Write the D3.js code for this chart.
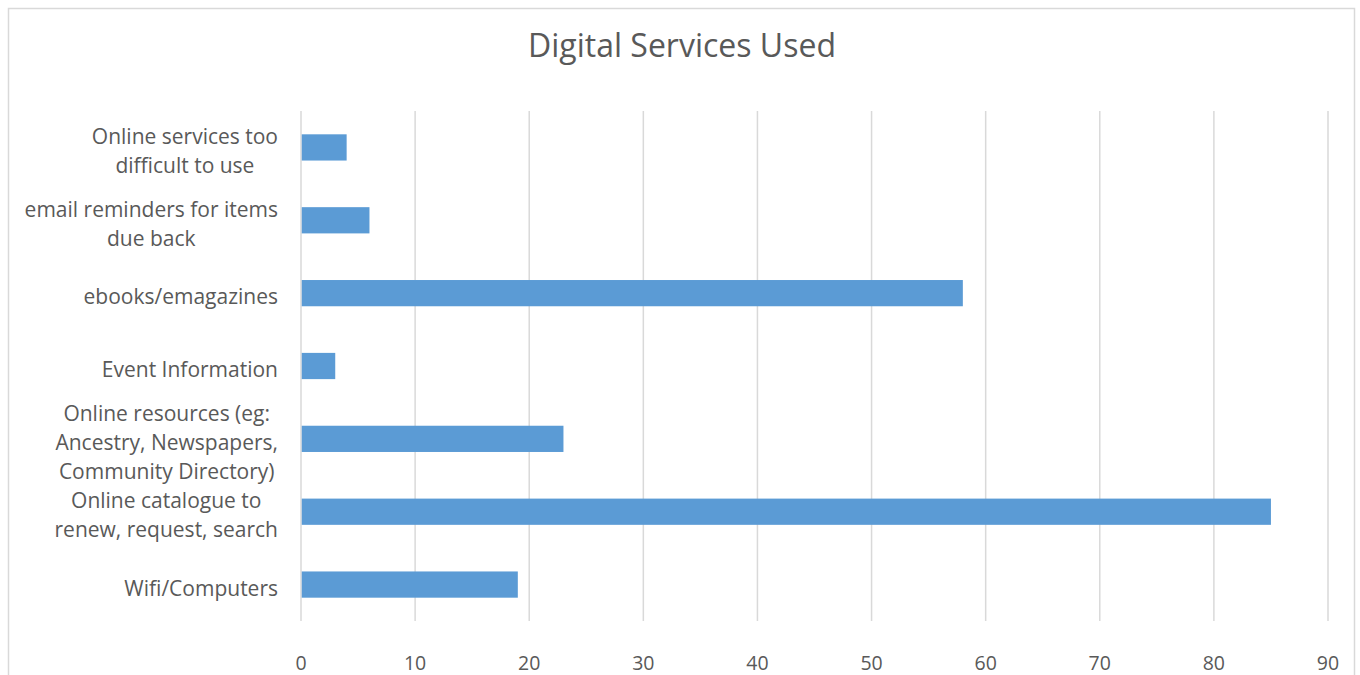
<!DOCTYPE html>
<html>
<head>
<meta charset="utf-8">
<script src="https://cdn.jsdelivr.net/npm/d3@7"></script>
<style>
  html, body { margin: 0; padding: 0; background: #fff; }
  svg { display: block; font-family: "Open Sans", "Noto Sans", sans-serif; }
</style>
</head>
<body>
<svg id="chart" width="1360" height="675"></svg>
<script>
const title = "Digital Services Used";
const categories = [
  ["Online services too", "difficult to use"],
  ["email reminders for items", "due back"],
  ["ebooks/emagazines"],
  ["Event Information"],
  ["Online resources (eg:", "Ancestry, Newspapers,", "Community Directory)"],
  ["Online catalogue to", "renew, request, search"],
  ["Wifi/Computers"]
];
const values = [4, 6, 58, 3, 23, 85, 19];
const xTicks = [0, 10, 20, 30, 40, 50, 60, 70, 80, 90];

const svg = d3.select("#chart");
const plot = { left: 301, right: 1328, top: 111, bottom: 621 };
const textColor = "#595959";
const gridColor = "#d9d9d9";

// outer border
svg.append("rect")
  .attr("x", 8.5).attr("y", 8.5)
  .attr("width", 1346).attr("height", 700)
  .attr("fill", "#fff").attr("stroke", gridColor).attr("stroke-width", 1.5);

// title
svg.append("text")
  .attr("x", 682).attr("y", 57)
  .attr("text-anchor", "middle")
  .attr("fill", textColor)
  .style("font-size", "32px")
  .text(title);

const x = d3.scaleLinear().domain([0, 90]).range([plot.left, plot.right]);
const y = d3.scaleBand()
  .domain(d3.range(categories.length))
  .range([plot.top, plot.bottom])
  .paddingInner(0.64).paddingOuter(0.32);

// gridlines
svg.append("g")
  .selectAll("line")
  .data(xTicks)
  .join("line")
  .attr("x1", d => x(d)).attr("x2", d => x(d))
  .attr("y1", plot.top).attr("y2", plot.bottom)
  .attr("stroke", gridColor).attr("stroke-width", 1.5);

// bars
svg.append("g")
  .selectAll("rect")
  .data(values)
  .join("rect")
  .attr("x", x(0) + 0.75)
  .attr("y", (d, i) => y(i))
  .attr("width", d => x(d) - x(0) - 0.75)
  .attr("height", y.bandwidth())
  .attr("fill", "#5b9bd5");

// x-axis tick labels
svg.append("g")
  .selectAll("text")
  .data(xTicks)
  .join("text")
  .attr("x", d => x(d))
  .attr("y", 670)
  .attr("text-anchor", "middle")
  .attr("fill", textColor)
  .style("font-size", "19.5px")
  .text(d => d);

// category labels (multi-line, centred block, right-aligned at labelRight)
const labelRight = 278;
const lineH = 29;
const lg = svg.append("g");
categories.forEach((lines, i) => {
  const cy = y(i) + y.bandwidth() / 2;
  const t = lg.append("text")
    .attr("fill", textColor)
    .style("font-size", "21px")
    .attr("text-anchor", "middle");
  const n = lines.length;
  const tspans = lines.map((ln, k) =>
    t.append("tspan")
      .attr("y", cy + (k - (n - 1) / 2) * lineH + 11)
      .text(ln));
  let maxW = 0;
  tspans.forEach(ts => { maxW = Math.max(maxW, ts.node().getComputedTextLength()); });
  tspans.forEach(ts => ts.attr("x", labelRight - maxW / 2));
});
</script>
</body>
</html>
